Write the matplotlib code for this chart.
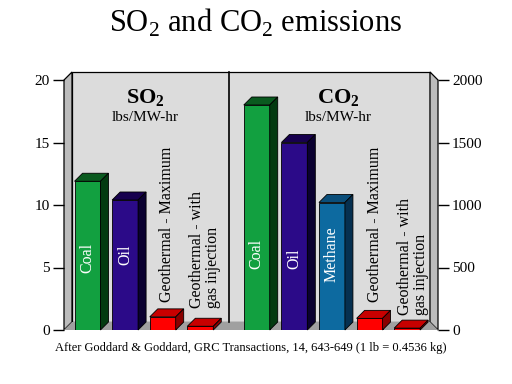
import matplotlib
matplotlib.use("Agg")
import matplotlib.pyplot as plt
from matplotlib.patches import Polygon

plt.rcParams["font.family"] = ["Liberation Serif", "DejaVu Serif"]
plt.rcParams["mathtext.fontset"] = "custom"
plt.rcParams["mathtext.rm"] = "Liberation Serif"
plt.rcParams["mathtext.bf"] = "Liberation Serif:bold"

# data (lbs/MW-hr)
so2_names = ["Coal", "Oil", "Geothermal - Maximum", "Geothermal - with\ngas injection"]
so2_values = [11.9, 10.4, 1.05, 0.3]
co2_names = ["Coal", "Oil", "Methane", "Geothermal - Maximum", "Geothermal - with\ngas injection"]
co2_values = [1800, 1500, 1020, 93, 15]
so2_ticks = [0, 5, 10, 15, 20]
co2_ticks = [0, 500, 1000, 1500, 2000]

front = {"Coal": "#12a040", "Oil": "#2b0a88", "Methane": "#0d6aa0", "geo": "#ff0000"}
top = {"Coal": "#0a5a1f", "Oil": "#17004e", "Methane": "#0a4e7a", "geo": "#c80000"}
side = {"Coal": "#033a10", "Oil": "#0a0030", "Methane": "#063050", "geo": "#8a0000"}

fig = plt.figure(figsize=(5.12, 3.84), dpi=100)
ax = fig.add_axes([64 / 512, 54 / 384, 374 / 512, 250 / 384])
ax2 = ax.twinx()

xl, xr = -0.625, 9.32
ax.set_xlim(xl, xr)
ax.set_ylim(0, 20)
ax2.set_ylim(0, 2000)
dx = 8 / 37.6   # depth in x data units
dy = 0.64       # depth in SO2 units
w = 0.69

# walls and floor
ymax = 20
ax.add_patch(Polygon([(xl + dx, dy), (xr - dx, dy), (xr - dx, ymax + dy), (xl + dx, ymax + dy)],
                     closed=True, fc="#dcdcdc", ec="black", lw=0.9, clip_on=False, zorder=0))
ax.add_patch(Polygon([(xl, 0), (xl + dx, dy), (xl + dx, ymax + dy), (xl, ymax)],
                     closed=True, fc="#bcbcbc", ec="black", lw=0.9, clip_on=False, zorder=0))
ax.add_patch(Polygon([(xr, 0), (xr - dx, dy), (xr - dx, ymax + dy), (xr, ymax)],
                     closed=True, fc="#bcbcbc", ec="black", lw=0.9, clip_on=False, zorder=0))
ax.add_patch(Polygon([(xl, 0), (xr, 0), (xr - dx, dy), (xl + dx, dy)],
                     closed=True, fc="#a0a0a0", ec="none", clip_on=False, zorder=0.5))
ax.plot([3.77, 3.77], [dy, ymax + dy], color="black", lw=1.2, clip_on=False, zorder=0.6)


def draw_bars(a, xs, names, values, ddy):
    for x, name, v in zip(xs, names, values):
        key = name if name in front else "geo"
        a.bar(x, v, width=w, color=front[key], edgecolor="black", lw=0.6, zorder=3)
        a.add_patch(Polygon([(x - w / 2, v), (x + w / 2, v), (x + w / 2 + dx, v + ddy), (x - w / 2 + dx, v + ddy)],
                            closed=True, fc=top[key], ec="black", lw=0.6, zorder=3, clip_on=False))
        a.add_patch(Polygon([(x + w / 2, 0), (x + w / 2 + dx, ddy), (x + w / 2 + dx, v + ddy), (x + w / 2, v)],
                            closed=True, fc=side[key], ec="black", lw=0.6, zorder=3, clip_on=False))


so2_x = [i for i in range(len(so2_values))]
co2_x = [4.5 + i for i in range(len(co2_values))]
draw_bars(ax, so2_x, so2_names, so2_values, dy)
draw_bars(ax2, co2_x, co2_names, co2_values, dy * 100)

# labels in / above bars
lab_fs = 11.5
label_y_so2 = [5.8, 6.0, 2.2, 1.8]
for x, name, ly in zip(so2_x, so2_names, label_y_so2):
    if name in front:
        ax.text(x, ly, name, rotation=90, ha="center", va="center", color="white", fontsize=lab_fs, zorder=5)
    else:
        ax.text(x + 0.12, ly, name, rotation=90, ha="center", va="bottom", color="black",
                fontsize=lab_fs, multialignment="left", linespacing=0.95, zorder=5)
label_y_co2 = [610, 570, 610, 220, 120]
for x, name, ly in zip(co2_x, co2_names, label_y_co2):
    if name in front:
        ax2.text(x, ly, name, rotation=90, ha="center", va="center", color="white", fontsize=lab_fs, zorder=5)
    else:
        ax2.text(x + 0.15, ly, name, rotation=90, ha="center", va="bottom", color="black",
                 fontsize=lab_fs, multialignment="left", linespacing=0.95, zorder=5)

ax.text(1.53, 18.6, r"$\mathbf{SO_2}$", ha="center", va="center", fontsize=16, zorder=5)
ax.text(1.53, 17.0, "lbs/MW-hr", ha="center", va="center", fontsize=11, zorder=5)
ax.text(6.66, 18.6, r"$\mathbf{CO_2}$", ha="center", va="center", fontsize=16, zorder=5)
ax.text(6.66, 17.0, "lbs/MW-hr", ha="center", va="center", fontsize=11, zorder=5)

# axes styling
for a in (ax, ax2):
    a.set_xticks([])
    for s in ("top", "bottom", "left", "right"):
        a.spines[s].set_visible(False)
    a.patch.set_visible(False)
ax.set_yticks(so2_ticks)
ax.set_yticklabels([str(t) for t in so2_ticks])
ax2.set_yticks(co2_ticks)
ax2.set_yticklabels([str(t) for t in co2_ticks])
ax.tick_params(axis="y", length=8, width=1, labelsize=11, pad=2)
ax2.tick_params(axis="y", length=8, width=1, labelsize=11, pad=2)

fig.text(0.5, 0.94, r"SO$_2$ and CO$_2$ emissions", ha="center", va="center", fontsize=22)
fig.text(0.49, 1 - 348 / 384, "After Goddard & Goddard, GRC Transactions, 14, 643-649 (1 lb = 0.4536 kg)",
         ha="center", va="center", fontsize=9)

fig.savefig("out.png", dpi=100)
